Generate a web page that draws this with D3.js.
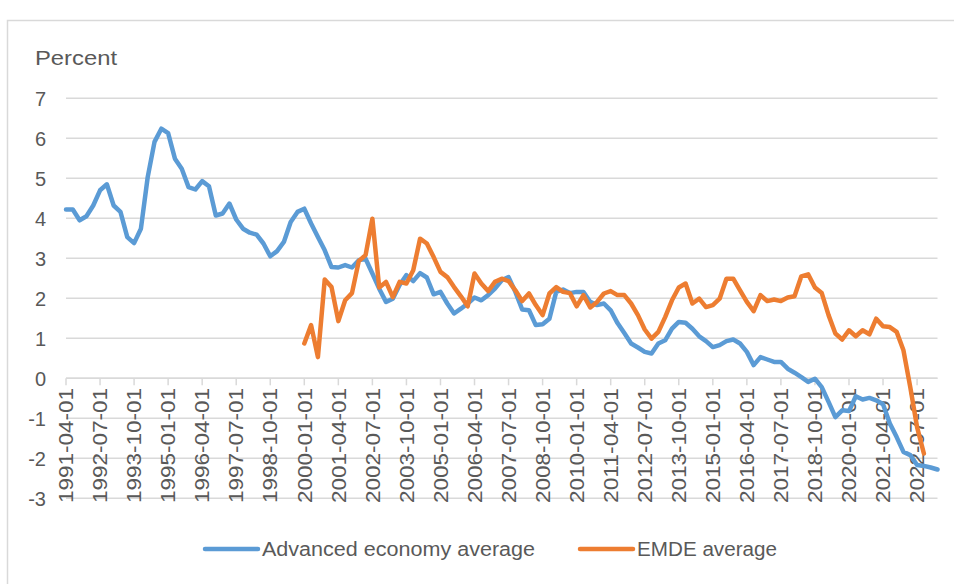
<!DOCTYPE html>
<html>
<head>
<meta charset="utf-8">
<script src="https://cdn.jsdelivr.net/npm/d3@7"></script>
<style>
  body { margin: 0; background: #fff; }
  text { font-family: "Liberation Sans", Arial, sans-serif; fill: #595959; }
</style>
</head>
<body>
<svg id="chart" width="954" height="584"></svg>
<script>
// quarterly data, 1991-04-01 .. 2023-04-01
let firstQuarter = new Date(Date.UTC(1991, 3, 1));
let nQuarters = 129;

let advanced = [
  4.22, 4.22, 3.95, 4.05, 4.32, 4.70, 4.85, 4.32, 4.16, 3.53,
  3.38, 3.74, 5.03, 5.91, 6.24, 6.13, 5.49, 5.24, 4.78, 4.72,
  4.93, 4.80, 4.07, 4.12, 4.37, 3.97, 3.74, 3.64, 3.59, 3.37,
  3.05, 3.18, 3.41, 3.91, 4.16, 4.24, 3.87, 3.53, 3.20, 2.78,
  2.77, 2.83, 2.77, 2.95, 2.99, 2.62, 2.24, 1.91, 1.99, 2.33,
  2.58, 2.43, 2.63, 2.52, 2.10, 2.16, 1.87, 1.62, 1.74, 1.87,
  2.02, 1.95, 2.08, 2.24, 2.45, 2.53, 2.16, 1.72, 1.70, 1.33,
  1.35, 1.49, 2.16, 2.22, 2.13, 2.16, 2.16, 1.91, 1.83, 1.87,
  1.70, 1.38, 1.13, 0.87, 0.77, 0.66, 0.62, 0.87, 0.95, 1.24,
  1.41, 1.39, 1.24, 1.05, 0.93, 0.78, 0.83, 0.93, 0.97, 0.87,
  0.66, 0.33, 0.53, 0.47, 0.41, 0.41, 0.24, 0.14, 0.03, -0.09,
  -0.01, -0.22, -0.59, -0.97, -0.80, -0.82, -0.45, -0.53, -0.49, -0.55,
  -0.65, -1.13, -1.47, -1.84, -1.92, -2.17, -2.19, -2.23, -2.28
];

// EMDE series starts at 2000-01-01 (quarter 35)
let emdeStart = 35;
let emde = [
  0.87, 1.33, 0.53, 2.47, 2.28, 1.43, 1.95, 2.13, 2.93, 3.08,
  3.99, 2.27, 2.41, 2.03, 2.41, 2.37, 2.70, 3.49, 3.37, 3.03,
  2.66, 2.53, 2.28, 2.05, 1.80, 2.62, 2.37, 2.18, 2.41, 2.49,
  2.43, 2.20, 1.93, 2.12, 1.83, 1.58, 2.12, 2.28, 2.16, 2.13,
  1.80, 2.08, 1.77, 1.91, 2.12, 2.18, 2.08, 2.08, 1.87, 1.58,
  1.22, 0.99, 1.16, 1.53, 1.95, 2.27, 2.37, 1.87, 1.99, 1.78,
  1.83, 1.99, 2.49, 2.49, 2.20, 1.91, 1.68, 2.08, 1.93, 1.97,
  1.93, 2.02, 2.05, 2.55, 2.60, 2.27, 2.13, 1.58, 1.12, 0.97,
  1.20, 1.05, 1.20, 1.10, 1.49, 1.30, 1.28, 1.16, 0.70, -0.22,
  -1.22, -1.88
];

let yTicks = [7, 6, 5, 4, 3, 2, 1, 0, -1, -2, -3];
let seriesNames = ["Advanced economy average", "EMDE average"];
let colors = ["#5b9bd5", "#ed7d31"];

let quarters = d3.range(nQuarters).map(i => d3.utcMonth.offset(firstQuarter, i * 3));
let fmt = d3.utcFormat("%Y-%m-%d");

let svg = d3.select("#chart");

// outer chart border
svg.append("rect")
   .attr("x", 7.5).attr("y", 20.5)
   .attr("width", 1000).attr("height", 700)
   .attr("fill", "none")
   .attr("stroke", "#d9d9d9")
   .attr("stroke-width", 1.5);

let x = d3.scaleLinear().domain([0, nQuarters - 1]).range([66, 937.5]);
let y = d3.scaleLinear().domain([-3, 7]).range([498.3, 98.3]);

// gridlines
svg.append("g")
   .selectAll("line")
   .data(yTicks)
   .enter()
   .append("line")
   .attr("x1", x(0)).attr("x2", x(nQuarters - 1))
   .attr("y1", d => y(d)).attr("y2", d => y(d))
   .attr("stroke", "#d9d9d9")
   .attr("stroke-width", 1.5);

// y labels
svg.append("g")
   .selectAll("text")
   .data(yTicks)
   .enter()
   .append("text")
   .attr("x", 46)
   .attr("y", d => y(d))
   .attr("dy", "0.36em")
   .attr("text-anchor", "end")
   .attr("font-size", 20)
   .text(d => d);

svg.append("text")
   .attr("x", 35).attr("y", 65)
   .attr("font-size", 21)
   .attr("textLength", 82)
   .attr("lengthAdjust", "spacingAndGlyphs")
   .text("Percent");

// x axis at zero with tick marks every 5 quarters
let tickIdx = d3.range(0, nQuarters, 5);

svg.append("line")
   .attr("x1", x(0)).attr("x2", x(nQuarters - 1))
   .attr("y1", y(0)).attr("y2", y(0))
   .attr("stroke", "#d9d9d9")
   .attr("stroke-width", 1.5);

svg.append("g")
   .selectAll("line")
   .data(tickIdx)
   .enter()
   .append("line")
   .attr("x1", d => x(d)).attr("x2", d => x(d))
   .attr("y1", y(0)).attr("y2", y(0) + 7)
   .attr("stroke", "#d9d9d9")
   .attr("stroke-width", 1.5);

svg.append("g")
   .selectAll("text")
   .data(tickIdx)
   .enter()
   .append("text")
   .attr("transform", d => `translate(${x(d)},388) rotate(-90)`)
   .attr("text-anchor", "end")
   .attr("dy", "0.36em")
   .attr("font-size", 20)
   .attr("textLength", 115)
   .attr("lengthAdjust", "spacingAndGlyphs")
   .text(d => fmt(quarters[d]));

// lines
let line = d3.line()
  .defined(d => d[1] != null)
  .x(d => x(d[0]))
  .y(d => y(d[1]));

let advPts = advanced.map((v, i) => [i, v]);
let emdePts = emde.map((v, i) => [i + emdeStart, v]);

[advPts, emdePts].forEach((pts, k) => {
  svg.append("path")
     .attr("d", line(pts))
     .attr("fill", "none")
     .attr("stroke", colors[k])
     .attr("stroke-width", 4.5)
     .attr("stroke-linejoin", "round")
     .attr("stroke-linecap", "round");
});

// legend
let legendX = [205, 580];
let legendLen = [273, 140];
seriesNames.forEach((name, k) => {
  let g = svg.append("g").attr("transform", `translate(${legendX[k]},549)`);
  g.append("line")
   .attr("x1", 0).attr("x2", 53)
   .attr("stroke", colors[k])
   .attr("stroke-width", 4.5)
   .attr("stroke-linecap", "round");
  g.append("text")
   .attr("x", 57)
   .attr("dy", "0.36em")
   .attr("font-size", 20)
   .attr("textLength", legendLen[k])
   .attr("lengthAdjust", "spacingAndGlyphs")
   .text(name);
});
</script>
</body>
</html>
